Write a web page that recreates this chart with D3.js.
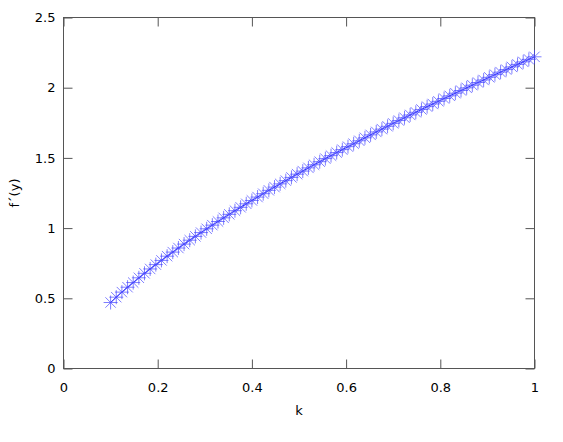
<!DOCTYPE html>
<html>
<head>
<meta charset="utf-8">
<script src="https://cdnjs.cloudflare.com/ajax/libs/d3/7.8.5/d3.min.js"></script>
<style>
    body{margin:0;background:#fff;}
    .canvas{width:563px;height:442px;}
    text{font-family:"DejaVu Sans",Verdana,sans-serif;font-size:13px;fill:#000;}
</style>
</head>
<body>
<div class="canvas" id="canvas"></div>
<script>
//data
var kValues = [0.100,0.112,0.124,0.136,0.148,0.160,0.172,0.184,0.196,0.208,
    0.220,0.232,0.244,0.256,0.268,0.280,0.292,0.304,0.316,0.328,
    0.340,0.352,0.364,0.376,0.388,0.400,0.412,0.424,0.436,0.448,
    0.460,0.472,0.484,0.496,0.508,0.520,0.532,0.544,0.556,0.568,
    0.580,0.592,0.604,0.616,0.628,0.640,0.652,0.664,0.676,0.688,
    0.700,0.712,0.724,0.736,0.748,0.760,0.772,0.784,0.796,0.808,
    0.820,0.832,0.844,0.856,0.868,0.880,0.892,0.904,0.916,0.928,
    0.940,0.952,0.964,0.976,0.988,1.000];
var fValues = [0.470,0.508,0.544,0.579,0.612,0.646,0.678,0.709,0.740,0.770,
    0.800,0.829,0.858,0.886,0.914,0.941,0.968,0.995,1.021,1.047,
    1.073,1.098,1.124,1.148,1.173,1.197,1.221,1.245,1.269,1.292,
    1.315,1.338,1.361,1.384,1.406,1.429,1.451,1.473,1.495,1.516,
    1.538,1.559,1.580,1.601,1.622,1.643,1.664,1.685,1.705,1.725,
    1.746,1.766,1.786,1.806,1.825,1.845,1.865,1.884,1.903,1.923,
    1.942,1.961,1.980,1.999,2.018,2.037,2.055,2.074,2.093,2.111,
    2.129,2.148,2.166,2.184,2.202,2.220];
var xTicks = [0,0.2,0.4,0.6,0.8,1];
var yTicks = [0,0.5,1,1.5,2,2.5];

//margin convention
var m = {t:17.5,r:28.5,b:73.5,l:63.5};
var outerWidth = 563, outerHeight = 442;
var w = outerWidth - m.l - m.r,
    h = outerHeight - m.t - m.b;

var svg = d3.select('.canvas')
    .append('svg')
    .attr('width',outerWidth)
    .attr('height',outerHeight);

var plot = svg.append('g')
    .attr('transform','translate(' + m.l + ',' + m.t + ')');

var scaleX = d3.scaleLinear().domain([0,1]).range([0,w]);
var scaleY = d3.scaleLinear().domain([0,2.5]).range([h,0]);

var rows = kValues.map(function(k,i){ return {k:k, f:fValues[i]}; });

//axes, ticks pointing inward, mirrored on top/right
function styleAxis(g){
    g.select('.domain').remove();
    g.selectAll('.tick line').attr('stroke','#555').attr('stroke-width',1);
    g.selectAll('.tick text').style('font-family','"DejaVu Sans",Verdana,sans-serif').style('font-size','13px').attr('fill','#000');
}

plot.append('g')
    .attr('transform','translate(0,' + h + ')')
    .call(d3.axisBottom(scaleX).tickValues(xTicks).tickFormat(d3.format('')).tickSizeInner(-9).tickPadding(14))
    .call(styleAxis);
plot.append('g')
    .call(d3.axisTop(scaleX).tickValues(xTicks).tickSizeInner(-9).tickFormat(''))
    .call(styleAxis);
plot.append('g')
    .call(d3.axisLeft(scaleY).tickValues(yTicks).tickFormat(d3.format('')).tickSizeInner(-9).tickPadding(8))
    .call(styleAxis);
plot.append('g')
    .attr('transform','translate(' + w + ',0)')
    .call(d3.axisRight(scaleY).tickValues(yTicks).tickSizeInner(-9).tickFormat(''))
    .call(styleAxis);

//border
plot.append('rect')
    .attr('width',w)
    .attr('height',h)
    .attr('fill','none')
    .attr('stroke','#555')
    .attr('stroke-width',1);

//axis titles
svg.append('text')
    .attr('x',m.l + w/2)
    .attr('y',415)
    .attr('text-anchor','middle')
    .text('k');
svg.append('text')
    .attr('transform','translate(19,' + (m.t + h/2) + ') rotate(-90)')
    .attr('text-anchor','middle')
    .text('f´(y)');

//connecting line
var line = d3.line()
    .x(function(d){ return scaleX(d.k); })
    .y(function(d){ return scaleY(d.f); });

plot.append('path')
    .datum(rows)
    .attr('d',line)
    .attr('fill','none')
    .attr('stroke','#2a2aff')
    .attr('stroke-width',1);

//asterisk markers
var r = 7, rd = 5.2;
plot.selectAll('.marker')
    .data(rows)
    .enter()
    .append('path')
    .attr('class','marker')
    .attr('transform',function(d){ return 'translate(' + scaleX(d.k) + ',' + scaleY(d.f) + ')'; })
    .attr('d','M' + (-r) + ',0H' + r + 'M0,' + (-r) + 'V' + r +
        'M' + (-rd) + ',' + (-rd) + 'L' + rd + ',' + rd +
        'M' + (-rd) + ',' + rd + 'L' + rd + ',' + (-rd))
    .attr('fill','none')
    .attr('stroke','#4848ff')
    .attr('stroke-width',0.7);
</script>
</body>
</html>
